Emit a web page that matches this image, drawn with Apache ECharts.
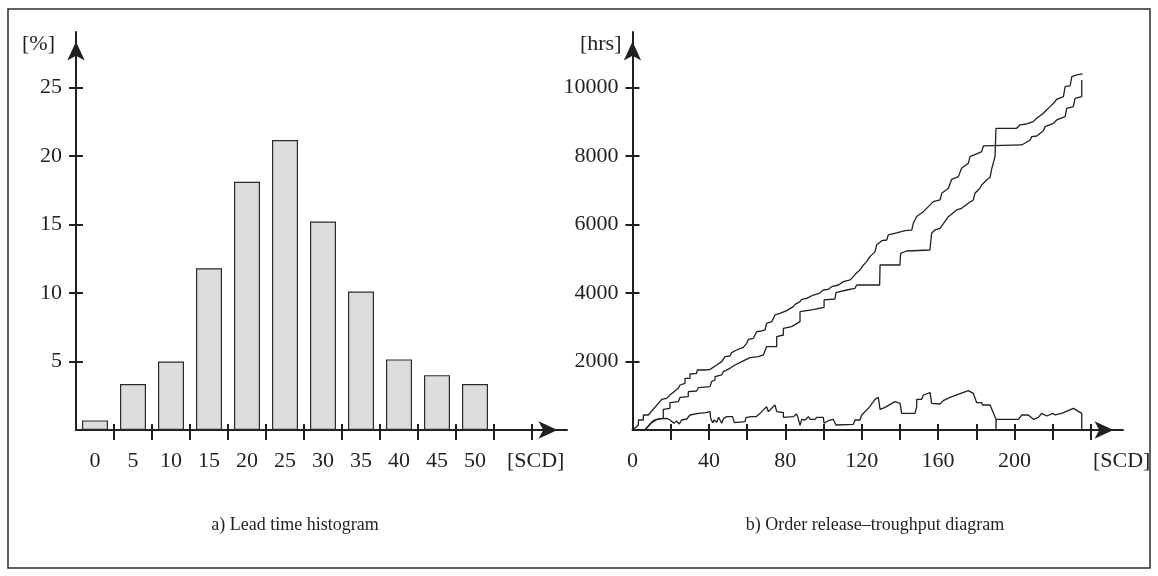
<!DOCTYPE html>
<html>
<head>
<meta charset="utf-8">
<style>
  html, body { margin: 0; padding: 0; background: #ffffff; }
  #chart { width: 1158px; height: 576px; }
</style>
<script src="https://cdn.jsdelivr.net/npm/echarts@6/dist/echarts.min.js"></script>
</head>
<body>
<div id="chart"></div>
<script>
// ---------------- data ----------------
// a) Lead time histogram
const histCategories = ['0', '5', '10', '15', '20', '25', '30', '35', '40', '45', '50', ''];
const histPercent = [0.7, 3.35, 5.0, 11.8, 18.1, 21.15, 15.2, 10.1, 5.15, 4.0, 3.35];
const pctTickValues = [5, 10, 15, 20, 25];

// b) Order release – throughput diagram  ([SCD], [hrs])
const hrsTickValues = [2000, 4000, 6000, 8000, 10000];
const scdTickValues = [20, 40, 60, 80, 100, 120, 140, 160, 180, 200, 220, 240];
const scdLabelValues = [0, 40, 80, 120, 160, 200];

// cumulative curve starting as the upper one
const curveA = [
  [0, 0], [3.1, 146], [3.1, 292], [5.7, 292], [5.7, 438], [8.3, 438], [15.3, 895], [17.9, 924],
  [19.6, 1021], [24.0, 1216], [24.9, 1313], [27.5, 1362], [27.5, 1508], [30.1, 1508], [30.1, 1634],
  [33.6, 1654], [33.9, 1751], [38.0, 1751], [40.6, 1770], [44.1, 1897], [46.7, 1994], [48.4, 2140],
  [51.0, 2159], [51.9, 2257], [54.5, 2334], [58.0, 2412], [59.8, 2529], [60.7, 2646], [63.3, 2675],
  [65.0, 2869], [67.6, 2889], [69.4, 2918], [70.2, 3113], [72.9, 3161], [74.6, 3356], [77.2, 3404],
  [80.7, 3482], [84.2, 3599], [85.1, 3667], [87.7, 3745], [88.6, 3813], [91.2, 3842], [94.7, 3939],
  [97.8, 3988], [99.9, 4085], [102.5, 4105], [104.3, 4183], [107.8, 4231], [110.4, 4329], [113.9, 4377],
  [115.6, 4474], [117.4, 4591], [119.1, 4669], [120.9, 4815], [122.6, 4912], [124.3, 5058], [127.0, 5204],
  [127.8, 5398], [130.5, 5525], [133.1, 5544], [133.9, 5690], [138.3, 5750], [142.7, 5820], [146.2, 5830],
  [147.0, 6031], [148.8, 6230], [152.3, 6371], [154.9, 6517], [157.5, 6663], [161.0, 6712], [161.9, 6906],
  [165.4, 7052], [167.1, 7315], [170.6, 7393], [172.3, 7636], [175.8, 7782], [176.7, 7977], [180.2, 8055],
  [182.8, 8123], [183.7, 8288], [203.8, 8317], [208.2, 8463], [209.0, 8560], [211.6, 8579], [215.1, 8735],
  [216.0, 8852], [220.4, 8949], [222.1, 9046], [226.5, 9144], [227.3, 9387], [230.8, 9436], [231.7, 9679],
  [235.2, 9728], [235.2, 10214]
];
// cumulative curve starting as the lower one
const curveB = [
  [6.5, 0], [10.0, 214], [12.7, 311], [16.1, 340], [16.1, 603], [19.6, 632], [19.6, 798], [24.0, 827],
  [24.9, 953], [29.2, 973], [29.2, 1119], [33.6, 1138], [34.5, 1235], [40.6, 1265], [41.4, 1410],
  [43.2, 1459], [43.2, 1556], [46.7, 1605], [47.6, 1702], [51.0, 1800], [53.7, 1897], [57.2, 1994],
  [61.5, 2111], [65.9, 2140], [68.5, 2189], [70.2, 2432], [75.5, 2432], [75.5, 2724], [79.0, 2772],
  [79.0, 2967], [83.3, 3015], [87.7, 3161], [87.7, 3453], [93.8, 3502], [100.3, 3580], [100.3, 3794],
  [106.0, 3823], [106.5, 4008], [112.1, 4085], [116.5, 4134], [117.4, 4231], [129.4, 4231], [129.6, 4815],
  [140.0, 4815], [140.4, 5155], [143.5, 5223], [155.7, 5252], [156.6, 5739], [158.3, 5836], [161.0, 5885],
  [165.4, 6225], [166.2, 6274], [169.7, 6420], [172.3, 6468], [175.8, 6614], [178.4, 6712], [179.3, 6906],
  [181.9, 7052], [182.8, 7149], [185.4, 7295], [187.2, 7373], [188.0, 7607], [188.9, 7636], [189.8, 7977],
  [190.3, 8803], [201.1, 8803], [202.8, 8900], [206.3, 8929], [207.2, 8968], [209.8, 8997], [211.6, 9095],
  [215.1, 9241], [216.8, 9338], [218.6, 9436], [220.4, 9533], [222.1, 9650], [225.6, 9728], [226.5, 10020],
  [229.1, 10039], [230.0, 10311], [232.6, 10360], [235.6, 10388]
];
// lower wiggly curve
const curveC = [
  [6.5, 0], [9.2, 175], [10.9, 272], [14.4, 331], [17.9, 340], [19.6, 292], [20.5, 311], [21.7, 195],
  [23.1, 263], [24.5, 175], [25.7, 292], [28.4, 321], [30.1, 438], [34.5, 486], [38.5, 506], [40.6, 535],
  [40.9, 340], [42.0, 214], [42.7, 292], [44.1, 224], [45.1, 370], [46.7, 195], [47.6, 331], [49.3, 389],
  [52.4, 389], [53.3, 214], [58.9, 243], [59.4, 360], [61.9, 389], [64.7, 389], [66.8, 486], [70.2, 681],
  [71.1, 535], [74.6, 730], [75.5, 535], [79.0, 506], [79.0, 370], [84.2, 389], [85.9, 467], [86.6, 370],
  [87.7, 136], [88.6, 311], [90.3, 292], [92.1, 389], [93.0, 311], [95.6, 311], [96.4, 370], [99.9, 370],
  [100.3, 195], [102.5, 272], [105.1, 311], [106.5, 146], [115.6, 165], [116.5, 292], [119.1, 292],
  [120.0, 438], [120.9, 486], [124.3, 681], [125.2, 759], [127.0, 895], [128.7, 953], [129.6, 603],
  [132.2, 661], [137.4, 827], [140.1, 778], [140.9, 486], [145.3, 486], [147.9, 486], [148.8, 681],
  [148.8, 895], [151.4, 895], [152.3, 1021], [155.8, 1089], [156.6, 778], [161.0, 759], [162.7, 856],
  [166.2, 953], [175.8, 1148], [178.4, 1070], [179.3, 1070], [180.2, 798], [182.8, 798], [183.3, 730],
  [187.2, 730], [190.3, 311], [190.3, 0], [190.4, 311], [202.0, 311], [203.8, 438], [207.2, 438],
  [209.9, 311], [212.5, 370], [214.2, 486], [216.9, 409], [220.0, 486], [221.2, 438], [224.7, 486],
  [230.8, 632], [235.2, 486], [235.2, 0]
];

// ---------------- style ----------------
const INK = '#231f20';
const FONT = '"Liberation Serif", "DejaVu Serif", serif';
const AXIS_W = 2;

const chart = echarts.init(document.getElementById('chart'), null, { renderer: 'canvas' });

function arrowLine() {
  return {
    show: true, onZero: false,
    symbol: ['none', 'arrow'], symbolSize: [13, 19], symbolOffset: [0, -9.5],
    lineStyle: { color: INK, width: AXIS_W }
  };
}
const plain = function (v) { return String(v); };
const labelStyle = { color: INK, fontFamily: FONT, fontSize: 22, lineHeight: 22 };

const option = {
  animation: false,
  backgroundColor: '#ffffff',
  textStyle: { fontFamily: FONT, color: INK },
  title: [
    { text: 'a) Lead time histogram', left: 290, top: 511, textAlign: 'center',
      textStyle: { fontFamily: FONT, fontSize: 18, fontWeight: 'normal', color: INK } },
    { text: 'b) Order release\u2013troughput diagram', left: 870, top: 511, textAlign: 'center',
      textStyle: { fontFamily: FONT, fontSize: 18, fontWeight: 'normal', color: INK } }
  ],
  graphic: [
    { type: 'rect', shape: { x: 8, y: 9, width: 1142, height: 559 }, silent: true,
      style: { fill: 'none', stroke: '#2b2b2b', lineWidth: 1.5 } }
  ],
  grid: [
    { left: 76, top: 32, width: 456, height: 398 },   // histogram bars
    { left: 76, top: 32, width: 491, height: 398 },   // histogram arrows
    { left: 632.5, top: 32, width: 490.5, height: 398 } // diagram
  ],
  xAxis: [
    { // 0: histogram categories
      gridIndex: 0, type: 'category', data: histCategories, boundaryGap: true, offset: -6,
      axisLine: { show: false, onZero: false },
      axisTick: { show: true, length: 16, interval: function (i) { return i > 0; },
                  lineStyle: { color: INK, width: AXIS_W } },
      axisLabel: Object.assign({ margin: 26, interval: 0 }, labelStyle),
      splitLine: { show: false }
    },
    { // 1: histogram arrow axis
      gridIndex: 1, type: 'value', min: 0, max: 1,
      axisLine: arrowLine(), axisTick: { show: false }, axisLabel: { show: false }, splitLine: { show: false },
      name: '[SCD]', nameLocation: 'end', nameGap: -60,
      nameTextStyle: Object.assign({ align: 'left', verticalAlign: 'top', padding: [20, 0, 0, 0] }, labelStyle)
    },
    { // 2: diagram data axis
      gridIndex: 2, type: 'value', min: 0, max: 256.8, offset: -6,
      axisLine: { show: false, onZero: false },
      axisTick: { show: true, length: 16, customValues: scdTickValues, lineStyle: { color: INK, width: AXIS_W } },
      axisLabel: Object.assign({ margin: 26, customValues: scdLabelValues, formatter: plain }, labelStyle),
      splitLine: { show: false }
    },
    { // 3: diagram arrow axis
      gridIndex: 2, type: 'value', min: 0, max: 1, position: 'bottom',
      axisLine: arrowLine(), axisTick: { show: false }, axisLabel: { show: false }, splitLine: { show: false },
      name: '[SCD]', nameLocation: 'end', nameGap: -30,
      nameTextStyle: Object.assign({ align: 'left', verticalAlign: 'top', padding: [20, 0, 0, 0] }, labelStyle)
    }
  ],
  yAxis: [
    { // 0: percent data axis
      gridIndex: 0, type: 'value', min: 0, max: 29.03, offset: -7,
      axisLine: { show: false, onZero: false },
      axisTick: { show: true, length: 14, customValues: pctTickValues, lineStyle: { color: INK, width: AXIS_W } },
      axisLabel: Object.assign({ margin: 21, customValues: pctTickValues, formatter: plain }, labelStyle),
      splitLine: { show: false }
    },
    { // 1: percent arrow axis
      gridIndex: 1, type: 'value', min: 0, max: 1,
      axisLine: arrowLine(), axisTick: { show: false }, axisLabel: { show: false }, splitLine: { show: false },
      name: '[%]', nameLocation: 'end', nameGap: -1.5,
      nameTextStyle: Object.assign({ align: 'right', verticalAlign: 'top', padding: [0, 21, 0, 0] }, labelStyle)
    },
    { // 2: hrs data axis
      gridIndex: 2, type: 'value', min: 0, max: 11613, offset: -7,
      axisLine: { show: false, onZero: false },
      axisTick: { show: true, length: 14, customValues: hrsTickValues, lineStyle: { color: INK, width: AXIS_W } },
      axisLabel: Object.assign({ margin: 21, customValues: hrsTickValues, formatter: plain }, labelStyle),
      splitLine: { show: false }
    },
    { // 3: hrs arrow axis
      gridIndex: 2, type: 'value', min: 0, max: 1, position: 'left',
      axisLine: arrowLine(), axisTick: { show: false }, axisLabel: { show: false }, splitLine: { show: false },
      name: '[hrs]', nameLocation: 'end', nameGap: -1.5,
      nameTextStyle: Object.assign({ align: 'right', verticalAlign: 'top', padding: [0, 11, 0, 0] }, labelStyle)
    }
  ],
  series: [
    {
      type: 'bar', xAxisIndex: 0, yAxisIndex: 0, data: histPercent, barWidth: 26,
      itemStyle: { color: '#dcdddf', borderColor: '#2b2b2b', borderWidth: 1.2 },
      z: 1
    },
    { type: 'line', xAxisIndex: 2, yAxisIndex: 2, data: curveA, showSymbol: false, symbol: 'none',
      lineStyle: { color: INK, width: 1.3 }, z: 3 },
    { type: 'line', xAxisIndex: 2, yAxisIndex: 2, data: curveB, showSymbol: false, symbol: 'none',
      lineStyle: { color: INK, width: 1.3 }, z: 3 },
    { type: 'line', xAxisIndex: 2, yAxisIndex: 2, data: curveC, showSymbol: false, symbol: 'none',
      lineStyle: { color: INK, width: 1.3 }, z: 3 }
  ]
};
chart.setOption(option);
</script>
</body>
</html>
